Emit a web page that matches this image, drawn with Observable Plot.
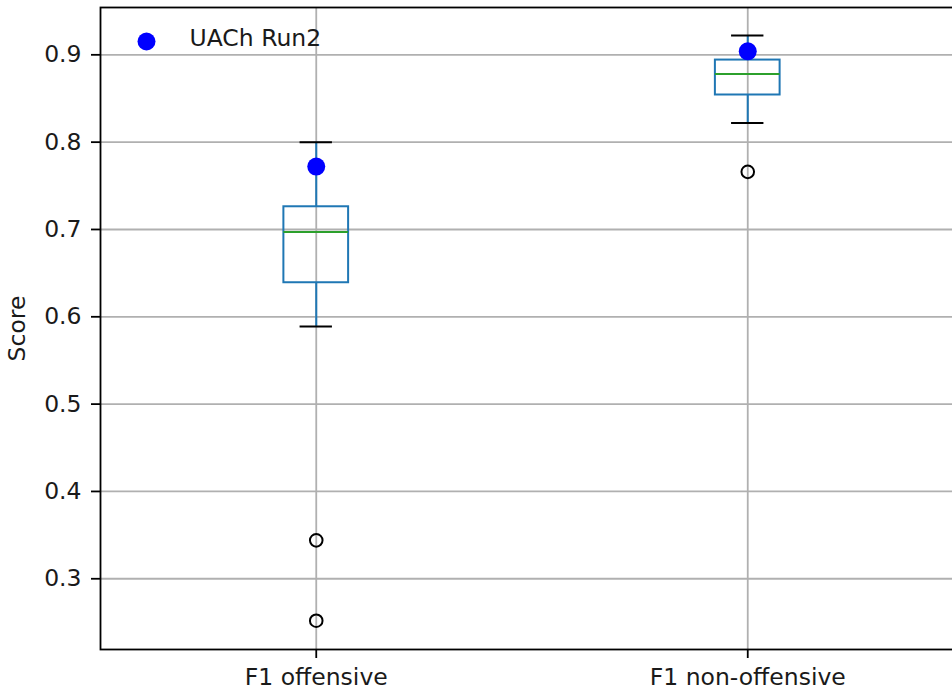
<!DOCTYPE html>
<html>
<head>
<meta charset="utf-8">
<script src="https://cdn.jsdelivr.net/npm/d3@7"></script>
<script src="https://cdn.jsdelivr.net/npm/@observablehq/plot@0.6"></script>
<style>
  html, body { margin: 0; padding: 0; background: #fff; overflow: hidden; }
  #wrap { width: 952px; height: 690px; overflow: hidden; }
  #wrap svg { max-width: none !important; }
</style>
</head>
<body>
<div id="wrap"></div>
<script>
const categories = ["F1 offensive", "F1 non-offensive"];
const positions = [1, 2];
const whiskerLow = [0.589, 0.822];
const q1 = [0.639, 0.854];
const median = [0.697, 0.878];
const q3 = [0.726, 0.894];
const whiskerHigh = [0.800, 0.922];
const outliers = [[0.344, 0.252], [0.766]];
const runScores = [0.772, 0.904];
const runLabel = "UACh Run2";
const yTicks = [0.3, 0.4, 0.5, 0.6, 0.7, 0.8, 0.9];
const yLabel = "Score";

const boxWidth = 0.15;
const rows = categories.map((c, i) => ({
  cat: c, pos: positions[i], lo: whiskerLow[i], q1: q1[i], med: median[i],
  q3: q3[i], hi: whiskerHigh[i], run: runScores[i]
}));
const outlierRows = outliers.flatMap((vals, i) => vals.map(v => ({pos: positions[i], value: v})));

const lw = 2;
const chart = Plot.plot({
  width: 963,
  height: 690,
  marginLeft: 100,
  marginRight: 0,
  marginTop: 7,
  marginBottom: 41,
  style: {fontFamily: "DejaVu Sans", fontSize: "23.5px", color: "#1a1a1a", background: "white", maxWidth: "none"},
  x: {type: "linear", domain: [0.5, 2.5]},
  y: {domain: [0.219, 0.9542]},
  marks: [
    Plot.gridY(yTicks, {stroke: "#b0b0b0", strokeOpacity: 1, strokeWidth: 1.8}),
    Plot.gridX(positions, {stroke: "#b0b0b0", strokeOpacity: 1, strokeWidth: 1.8}),
    Plot.axisY({ticks: yTicks, tickSize: 9, tickPadding: 10, tickFormat: d3.format(".1f"),
      label: null, strokeWidth: 1.8, stroke: "black"}),
    Plot.axisX({ticks: positions, tickSize: 9, tickPadding: 10,
      tickFormat: d => categories[positions.indexOf(d)], label: null, strokeWidth: 1.8, stroke: "black"}),
    Plot.text([yLabel], {frameAnchor: "left", dx: -83, rotate: -90, text: d => d,
      textAnchor: "middle", lineAnchor: "middle", fill: "#1a1a1a"}),
    // whiskers
    Plot.ruleX(rows, {x: "pos", y1: "q3", y2: "hi", stroke: "#1f77b4", strokeWidth: lw}),
    Plot.ruleX(rows, {x: "pos", y1: "lo", y2: "q1", stroke: "#1f77b4", strokeWidth: lw}),
    // caps
    Plot.ruleY(rows, {y: "hi", x1: d => d.pos - boxWidth / 4, x2: d => d.pos + boxWidth / 4, stroke: "black", strokeWidth: lw}),
    Plot.ruleY(rows, {y: "lo", x1: d => d.pos - boxWidth / 4, x2: d => d.pos + boxWidth / 4, stroke: "black", strokeWidth: lw}),
    // boxes
    Plot.rect(rows, {x1: d => d.pos - boxWidth / 2, x2: d => d.pos + boxWidth / 2, y1: "q1", y2: "q3",
      fill: "none", stroke: "#1f77b4", strokeWidth: lw}),
    // medians
    Plot.ruleY(rows, {y: "med", x1: d => d.pos - boxWidth / 2, x2: d => d.pos + boxWidth / 2, stroke: "#2ca02c", strokeWidth: lw}),
    // outliers
    Plot.dot(outlierRows, {x: "pos", y: "value", r: 6.3, stroke: "black", fill: "none", strokeWidth: lw}),
    // run scores
    Plot.dot(rows, {x: "pos", y: "run", r: 9, fill: "blue", stroke: "none"}),
    // legend
    Plot.dot([runLabel], {frameAnchor: "top-left", dx: 46, dy: 34, r: 9, fill: "blue", stroke: "none"}),
    Plot.text([runLabel], {frameAnchor: "top-left", dx: 89, dy: 31, text: d => d,
      textAnchor: "start", lineAnchor: "middle", fill: "#1a1a1a"}),
    Plot.frame({stroke: "black", strokeWidth: 1.8})
  ]
});
document.getElementById("wrap").appendChild(chart);
</script>
</body>
</html>
